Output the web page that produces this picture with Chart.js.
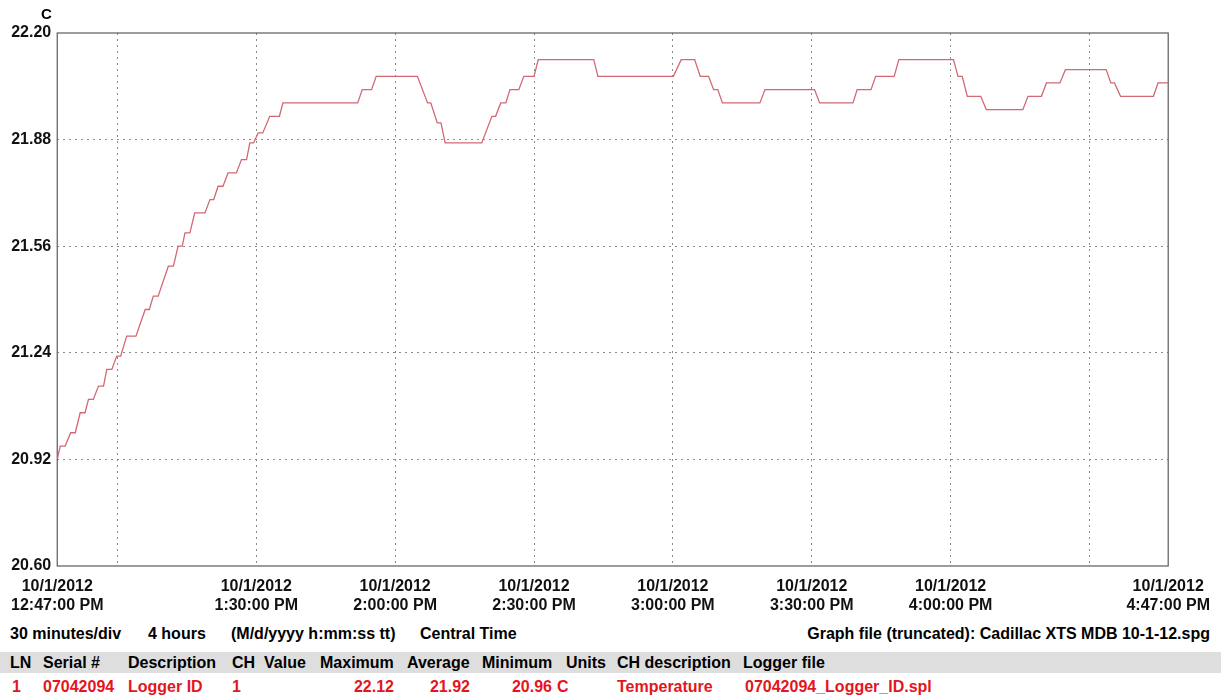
<!DOCTYPE html>
<html>
<head>
<meta charset="utf-8">
<script src="https://cdn.jsdelivr.net/npm/chart.js@4.4.1/dist/chart.umd.min.js"></script>
<style>
    body { margin: 0; background: #fff; }
    #page { position: relative; width: 1221px; height: 698px; font-family: "Liberation Sans", Arial, sans-serif; font-weight: bold; font-size: 16px; }
    #chart { position: absolute; left: 0; top: 0; }
    .t { position: absolute; white-space: nowrap; line-height: 19px; }
    .red { color: #e3161d; }
    #band { position: absolute; left: 0; top: 652px; width: 1221px; height: 21px; background: #dedede; }
</style>
</head>
<body>
<div id="page">
    <canvas id="chart" width="1221" height="622"></canvas>
    <div class="t" style="left:41px; top:4px; font-size:15px;">C</div>

    <div class="t" style="left:10px; top:624px;">30 minutes/div</div>
    <div class="t" style="left:148px; top:624px;">4 hours</div>
    <div class="t" style="left:231px; top:624px;">(M/d/yyyy h:mm:ss tt)</div>
    <div class="t" style="left:420px; top:624px;">Central Time</div>
    <div class="t" style="right:11px; top:624px;">Graph file (truncated): Cadillac XTS MDB 10-1-12.spg</div>

    <div id="band"></div>
    <div class="t" style="left:10px; top:653px;">LN</div>
    <div class="t" style="left:43px; top:653px;">Serial #</div>
    <div class="t" style="left:128px; top:653px;">Description</div>
    <div class="t" style="left:232px; top:653px;">CH</div>
    <div class="t" style="left:264px; top:653px;">Value</div>
    <div class="t" style="left:320px; top:653px;">Maximum</div>
    <div class="t" style="left:407px; top:653px;">Average</div>
    <div class="t" style="left:482px; top:653px;">Minimum</div>
    <div class="t" style="left:566px; top:653px;">Units</div>
    <div class="t" style="left:617px; top:653px;">CH description</div>
    <div class="t" style="left:743px; top:653px;">Logger file</div>

    <div class="t red" style="left:12px; top:677px;">1</div>
    <div class="t red" style="left:43px; top:677px;">07042094</div>
    <div class="t red" style="left:128px; top:677px;">Logger ID</div>
    <div class="t red" style="left:232px; top:677px;">1</div>
    <div class="t red" style="right:827px; top:677px;">22.12</div>
    <div class="t red" style="right:751px; top:677px;">21.92</div>
    <div class="t red" style="right:669px; top:677px;">20.96</div>
    <div class="t red" style="left:557px; top:677px;">C</div>
    <div class="t red" style="left:617px; top:677px;">Temperature</div>
    <div class="t red" style="left:745px; top:677px;">07042094_Logger_ID.spl</div>
</div>

<script>
// minutes after 12:47:00 PM, temperature in C
const minutes = [0, 0.65, 1.7, 2.9, 3.9, 4.95, 6.0, 6.75, 7.8, 8.9, 10.0, 10.7, 11.8, 12.85, 13.7,
    15.0, 17.0, 19.0, 19.9, 20.75, 21.8, 24.0, 25.1, 26.1, 27.0, 27.6, 28.65, 29.7, 31.9, 33.0,
    33.8, 34.75, 35.8, 36.9, 38.7, 39.8, 40.9, 41.6, 42.4, 43.4, 44.4, 45.9, 48.0, 48.75, 64.9,
    65.9, 67.9, 68.9, 77.8, 80.0, 80.7, 82.1, 82.9, 83.8, 91.7, 93.9, 94.7, 95.8, 96.9, 97.8,
    99.7, 100.8, 103.0, 103.9, 115.9, 116.8, 133.1, 134.8, 137.7, 138.9, 140.7, 141.8, 142.7, 143.7,
    151.8, 152.9, 163.6, 164.7, 171.9, 172.8, 175.8, 176.8, 180.8, 181.8, 193.6, 194.6, 195.5,
    196.6, 199.5, 200.7, 208.6, 209.7, 212.6, 213.7, 216.6, 217.8, 226.6, 227.6, 228.4, 229.7,
    236.8, 237.8, 240];
const temps = [20.92, 20.96, 20.96, 21.00, 21.00, 21.06, 21.06, 21.10, 21.10, 21.14, 21.14, 21.19, 21.19, 21.23, 21.23,
    21.29, 21.29, 21.37, 21.37, 21.41, 21.41, 21.50, 21.50, 21.56, 21.56, 21.60, 21.60, 21.66, 21.66, 21.70,
    21.70, 21.74, 21.74, 21.78, 21.78, 21.82, 21.82, 21.87, 21.87, 21.90, 21.90, 21.95, 21.95, 21.99, 21.99,
    22.03, 22.03, 22.07, 22.07, 21.99, 21.99, 21.93, 21.93, 21.87, 21.87, 21.95, 21.95, 21.99, 21.99, 22.03,
    22.03, 22.07, 22.07, 22.12, 22.12, 22.07, 22.07, 22.12, 22.12, 22.07, 22.07, 22.03, 22.03, 21.99,
    21.99, 22.03, 22.03, 21.99, 21.99, 22.03, 22.03, 22.07, 22.07, 22.12, 22.12, 22.07, 22.07,
    22.01, 22.01, 21.97, 21.97, 22.01, 22.01, 22.05, 22.05, 22.09, 22.09, 22.05, 22.05, 22.01,
    22.01, 22.05, 22.05];

const yTicks = [20.60, 20.92, 21.24, 21.56, 21.88, 22.20];
const gridMinutes = [13, 43, 73, 103, 133, 163, 193, 223];
const labelMinutes = [0, 43, 73, 103, 133, 163, 193, 240];
const labelDates = ['10/1/2012', '10/1/2012', '10/1/2012', '10/1/2012', '10/1/2012', '10/1/2012', '10/1/2012', '10/1/2012'];
const labelTimes = ['12:47:00 PM', '1:30:00 PM', '2:00:00 PM', '2:30:00 PM', '3:00:00 PM', '3:30:00 PM', '4:00:00 PM', '4:47:00 PM'];

const xTickValues = [...new Set([...labelMinutes, ...gridMinutes])].sort((a, b) => a - b);

const framePlugin = {
    id: 'frame',
    beforeDatasetsDraw(chart) {
        const { ctx, chartArea: a } = chart;
        ctx.save();
        ctx.strokeStyle = '#5a5a5a';
        ctx.lineWidth = 1.2;
        ctx.strokeRect(a.left, a.top, a.right - a.left, a.bottom - a.top);
        ctx.restore();
    }
};

const tickFont = { family: '"Liberation Sans", Arial, sans-serif', size: 16, weight: 'bold' };

new Chart(document.getElementById('chart'), {
    type: 'line',
    data: {
        datasets: [{
            data: minutes.map((m, i) => ({ x: m, y: temps[i] })),
            borderColor: '#d26874',
            borderWidth: 1.3,
            pointRadius: 0,
            tension: 0,
            fill: false
        }]
    },
    options: {
        responsive: false,
        animation: false,
        devicePixelRatio: 1,
        layout: { padding: { top: 33, right: 47, left: 0, bottom: 0 } },
        plugins: { legend: { display: false }, tooltip: { enabled: false } },
        scales: {
            x: {
                type: 'linear',
                min: 0,
                max: 240,
                afterBuildTicks: s => { s.ticks = xTickValues.map(v => ({ value: v })); },
                afterFit: s => { s.height = 56; },
                border: { display: false, dash: [2, 4] },
                grid: {
                    drawTicks: false,
                    lineWidth: 1,
                    color: c => gridMinutes.includes(c.tick && c.tick.value) ? '#8a8a8a' : 'rgba(0,0,0,0)'
                },
                ticks: {
                    autoSkip: false,
                    maxRotation: 0,
                    padding: 11,
                    color: '#111',
                    font: tickFont,
                    callback: v => {
                        const i = labelMinutes.indexOf(v);
                        return i < 0 ? '' : [labelDates[i], labelTimes[i]];
                    }
                }
            },
            y: {
                min: 20.60,
                max: 22.20,
                afterBuildTicks: s => { s.ticks = yTicks.map(v => ({ value: v })); },
                afterFit: s => { s.width = 57; },
                border: { display: false, dash: [2, 4] },
                grid: {
                    drawTicks: false,
                    lineWidth: 1,
                    color: c => (c.index > 0 && c.index < yTicks.length - 1) ? '#8a8a8a' : 'rgba(0,0,0,0)'
                },
                ticks: {
                    padding: 6,
                    color: '#111',
                    font: tickFont,
                    callback: v => v.toFixed(2)
                }
            }
        }
    },
    plugins: [framePlugin]
});
</script>
</body>
</html>
